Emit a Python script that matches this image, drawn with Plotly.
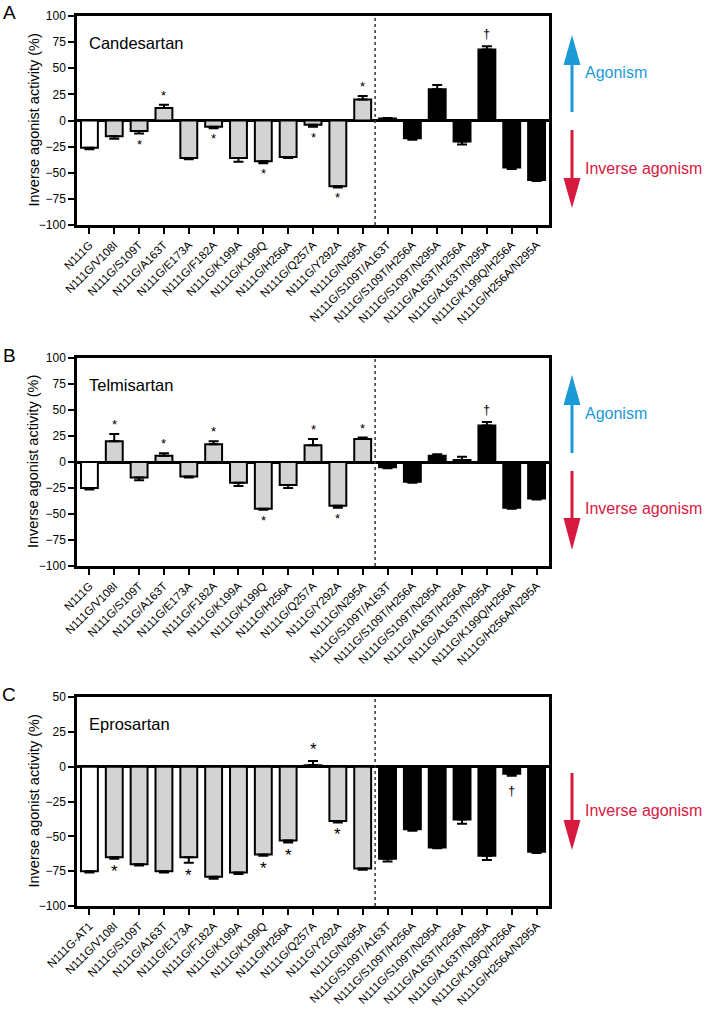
import plotly.graph_objects as go

PAGE_W, PAGE_H = 709, 1013
W, H = PAGE_W, PAGE_H

cats_ab = ["N111G", "N111G/V108I", "N111G/S109T", "N111G/A163T", "N111G/E173A",
           "N111G/F182A", "N111G/K199A", "N111G/K199Q", "N111G/H256A", "N111G/Q257A",
           "N111G/Y292A", "N111G/N295A", "N111G/S109T/A163T", "N111G/S109T/H256A",
           "N111G/S109T/N295A", "N111G/A163T/H256A", "N111G/A163T/N295A",
           "N111G/K199Q/H256A", "N111G/H256A/N295A"]
cats_c = ["N111G-AT1"] + cats_ab[1:]

cand_val = [-26, -15, -10, 12, -36, -6, -36, -39, -35, -4, -63, 20, 2, -17, 30, -20, 68, -45, -57]
cand_err = [1.5, 2.5, 2.5, 3, 1, 1.5, 3.5, 2, 1, 2, 1, 3.5, 0.5, 1.5, 4, 3, 3, 1.5, 1]
cand_sig = ["", "", "*", "*", "", "*", "", "*", "", "*", "*", "*", "", "", "", "", "†", "", ""]

telm_val = [-25, 20, -15, 6, -14, 17, -20, -45, -22, 16, -42, 22, -5, -19, 6, 2, 35, -44, -35]
telm_err = [1.5, 7, 2.5, 2.5, 1, 3, 3, 1, 3, 6, 2, 1.5, 1, 1, 1.5, 3, 3.5, 1, 1]
telm_sig = ["", "*", "", "*", "", "*", "", "*", "", "*", "*", "*", "", "", "", "", "†", "", ""]

epro_val = [-75, -65, -70, -75, -65, -79, -76, -63, -53, 1, -39, -73, -66, -45, -58, -38, -64, -5, -61]
epro_err = [1, 1, 1, 1, 4, 1.5, 1, 1, 1.5, 3, 1, 1, 2, 1, 0.5, 3, 3, 1.5, 1]
epro_sig = ["", "*", "", "", "*", "", "", "*", "*", "*", "*", "", "", "", "", "", "", "†", ""]

drugs = ["Candesartan", "Telmisartan", "Eprosartan"]
letters = ["A", "B", "C"]
yranges = [[-100, 100], [-100, 100], [-100, 50]]

fills = ["white"] + ["#d3d3d3"] * 11 + ["black"] * 7

FONT = "Arial, Liberation Sans, Helvetica, sans-serif"
BLUE = "#1b9ad6"
RED = "#d7183f"


def px(x):
    return x / W


def py(y):
    return 1 - y / H


# panel pixel geometry (top, bottom) in page pixels
panels = [(16, 225), (358, 566), (697, 906)]
x_left, x_right = 77, 549

fig = go.Figure()
annotations = []
shapes = []

datasets = [
    (cats_ab, cand_val, cand_err, cand_sig),
    (cats_ab, telm_val, telm_err, telm_sig),
    (cats_c, epro_val, epro_err, epro_sig),
]

for k, (cats, vals, errs, sigs) in enumerate(datasets):
    n = k + 1
    xa = "x" if n == 1 else f"x{n}"
    ya = "y" if n == 1 else f"y{n}"
    plus = [e if v >= 0 else 0 for v, e in zip(vals, errs)]
    minus = [e if v < 0 else 0 for v, e in zip(vals, errs)]
    fig.add_trace(go.Bar(
        x=list(range(len(cats))), y=vals, xaxis=xa, yaxis=ya,
        width=0.68,
        marker=dict(color=fills, line=dict(color="black", width=2)),
        error_y=dict(type="data", symmetric=False, array=plus, arrayminus=minus,
                     color="black", thickness=2, width=5),
        showlegend=False, hoverinfo="skip",
    ))
    top, bot = panels[k]
    dom_y = [py(bot), py(top)]
    yr = yranges[k]
    fig.layout[("xaxis" if n == 1 else f"xaxis{n}")] = dict(
        domain=[px(x_left), px(x_right)], anchor=ya, automargin=False,
        range=[-0.5, len(cats) - 0.5],
        tickmode="array", tickvals=list(range(len(cats))), ticktext=cats,
        tickangle=-45, ticks="outside", ticklen=6, tickwidth=2, tickcolor="black",
        showline=True, linewidth=2.5, linecolor="black", mirror=True,
        showgrid=False, zeroline=False,
        tickfont=dict(family=FONT, size=11.5, color="black"),
    )
    fig.layout[("yaxis" if n == 1 else f"yaxis{n}")] = dict(
        domain=dom_y, anchor=xa, range=yr, automargin=False,
        tickmode="linear", tick0=-100, dtick=25,
        ticks="outside", ticklen=6, tickwidth=2, tickcolor="black",
        showline=True, linewidth=2.5, linecolor="black", mirror=True,
        showgrid=False, zeroline=True, zerolinecolor="black", zerolinewidth=2.5,
        tickfont=dict(family=FONT, size=12, color="black"),
    )
    # dashed separator
    shapes.append(dict(type="line", xref=xa, yref=f"{ya} domain", x0=11.5, x1=11.5,
                       y0=0, y1=1, line=dict(color="#333333", width=1.5, dash="dot")))
    # significance marks
    big = (k == 2)
    for i, (v, e, s) in enumerate(zip(vals, errs, sigs)):
        if not s:
            continue
        up = v >= 0
        yv = v + e if up else v - e
        if s == "†":
            sz = 13
            shift = 3 if up else -5
        else:
            sz = 17 if big else 13
            shift = 0 if up else -1
        annotations.append(dict(
            x=i, y=yv, xref=xa, yref=ya, text=s, showarrow=False,
            yanchor="bottom" if up else "top", yshift=shift,
            font=dict(family=FONT, size=sz, color="black"),
        ))
    # drug name
    annotations.append(dict(
        x=px(87), y=py(top + 27), xref="paper", yref="paper", text=drugs[k],
        showarrow=False, xanchor="left", yanchor="middle",
        font=dict(family=FONT, size=16.5, color="black"),
    ))
    # y-axis title
    annotations.append(dict(
        x=px(33), y=py((top + bot) / 2), xref="paper", yref="paper",
        text="Inverse agonist activity (%)", textangle=-90, showarrow=False,
        xanchor="center", yanchor="middle",
        font=dict(family=FONT, size=14.5, color="black"),
    ))
    # panel letter
    annotations.append(dict(
        x=px(9), y=py(top - 3), xref="paper", yref="paper", text=letters[k],
        showarrow=False, xanchor="center", yanchor="middle",
        font=dict(family=FONT, size=19, color="black"),
    ))

# legend arrows
AX = 572


def add_arrow(tip, base, tail, color):
    shapes.append(dict(type="line", xref="paper", yref="paper",
                       x0=px(AX), x1=px(AX), y0=py(tail), y1=py(base),
                       line=dict(color=color, width=3)))
    shapes.append(dict(type="path", xref="paper", yref="paper",
                       path=f"M {px(AX - 8.5)},{py(base)} L {px(AX + 8.5)},{py(base)} L {px(AX)},{py(tip)} Z",
                       fillcolor=color, line=dict(color=color, width=0)))


arrows_up = [(35, 65, 112), (375, 405, 453)]
arrows_down = [(208, 178, 130), (550, 518, 471), (850, 820, 773)]
for tip, base, tail in arrows_up:
    add_arrow(tip, base, tail, BLUE)
for tip, base, tail in arrows_down:
    add_arrow(tip, base, tail, RED)

for yy in [72, 413]:
    annotations.append(dict(x=px(583), y=py(yy), xref="paper", yref="paper",
                            text="Agonism", showarrow=False, xanchor="left", yanchor="middle",
                            font=dict(family=FONT, size=16, color=BLUE)))
for yy in [168, 508, 810]:
    annotations.append(dict(x=px(583), y=py(yy), xref="paper", yref="paper",
                            text="Inverse agonism", showarrow=False, xanchor="left", yanchor="middle",
                            font=dict(family=FONT, size=16, color=RED)))

fig.update_layout(
    template="none",
    width=W, height=H,
    margin=dict(l=0, r=0, t=0, b=0, autoexpand=False),
    paper_bgcolor="white", plot_bgcolor="white",
    annotations=annotations, shapes=shapes,
    bargap=0.3,
    font=dict(family=FONT, color="black"),
)

fig.write_html("out.html", config={"displayModeBar": False},
               post_script="document.body.style.margin='0px';document.body.style.padding='0px';")
